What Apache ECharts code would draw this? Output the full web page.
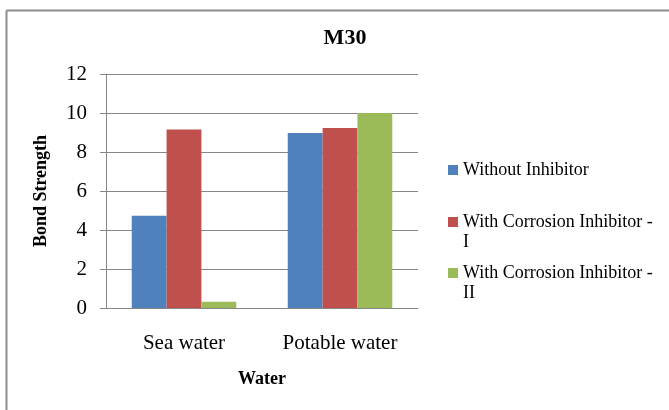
<!DOCTYPE html>
<html>
<head>
<meta charset="utf-8">
<script src="https://cdn.jsdelivr.net/npm/echarts@6/dist/echarts.min.js"></script>
<style>
  html, body { margin: 0; padding: 0; background: #fff; }
  #chart { width: 669px; height: 410px; }
</style>
</head>
<body>
<div id="chart"></div>
<script>
// Bond strength of M30 concrete by curing water
const categories = ['Sea water', 'Potable water'];
const seriesNames = ['Without Inhibitor', 'With Corrosion Inhibitor - I', 'With Corrosion Inhibitor - II'];
const withoutInhibitor = [4.73, 8.97];
const inhibitorI = [9.16, 9.23];
const inhibitorII = [0.32, 10.0];
const yTicks = [0, 2, 4, 6, 8, 10, 12];

const colors = ['#4F81BD', '#C0504D', '#9BBB59'];
const serif = '"Liberation Serif", "DejaVu Serif", serif';
const valuesBySeries = [withoutInhibitor, inhibitorI, inhibitorII];

// Legend labels wrap like the original text box; a blank first line keeps
// the swatch level with the first line of a wrapped label.
const legendLabels = ['Without Inhibitor', ' \nWith Corrosion Inhibitor -\nI', ' \nWith Corrosion Inhibitor -\nII'];
const legendTops = [160, 192, 243];

const chart = echarts.init(document.getElementById('chart'), null, { renderer: 'canvas' });

chart.setOption({
  animation: false,
  backgroundColor: '#fff',
  color: colors,
  title: {
    text: 'M30',
    left: 340,
    top: 22,
    textAlign: 'center',
    textStyle: { fontFamily: serif, fontWeight: 'bold', fontSize: 22, color: '#000' }
  },
  legend: seriesNames.map((name, i) => ({
    orient: 'vertical',
    left: 448,
    top: legendTops[i],
    padding: 0,
    data: [name],
    icon: 'rect',
    itemWidth: 10,
    itemHeight: 10,
    itemGap: 0,
    selectedMode: false,
    formatter: () => legendLabels[i],
    textStyle: {
      fontFamily: serif,
      fontSize: 18,
      color: '#000',
      lineHeight: 20
    }
  })),
  grid: { left: 106, right: 251, top: 74, bottom: 102 },
  xAxis: {
    type: 'category',
    data: categories,
    name: 'Water',
    nameLocation: 'middle',
    nameGap: 62,
    nameTextStyle: { fontFamily: serif, fontWeight: 'bold', fontSize: 18, color: '#000' },
    axisLine: { lineStyle: { color: '#868686', width: 1 } },
    axisTick: { show: false },
    axisLabel: { fontFamily: serif, fontSize: 21, color: '#000', margin: 25 }
  },
  yAxis: {
    type: 'value',
    min: yTicks[0],
    max: yTicks[yTicks.length - 1],
    interval: 2,
    name: 'Bond Strength',
    nameLocation: 'middle',
    nameGap: 56,
    nameTextStyle: { fontFamily: serif, fontWeight: 'bold', fontSize: 18, color: '#000' },
    axisLine: { show: true, lineStyle: { color: '#868686', width: 1 } },
    axisTick: { show: true, length: 6, lineStyle: { color: '#868686' } },
    axisLabel: { fontFamily: serif, fontSize: 21, color: '#000', margin: 19 },
    splitLine: { lineStyle: { color: '#868686', width: 1 } }
  },
  series: seriesNames.map((name, i) => ({
    name,
    type: 'bar',
    data: valuesBySeries[i],
    barGap: '0%',
    barCategoryGap: '33%',
    itemStyle: { color: colors[i] }
  })),
  graphic: [
    { type: 'line', shape: { x1: 6.5, y1: 10.5, x2: 669, y2: 10.5 }, style: { stroke: '#8c8c8c', lineWidth: 2 } },
    { type: 'line', shape: { x1: 6.5, y1: 10.5, x2: 6.5, y2: 410 }, style: { stroke: '#8c8c8c', lineWidth: 2 } }
  ]
});
</script>
</body>
</html>
